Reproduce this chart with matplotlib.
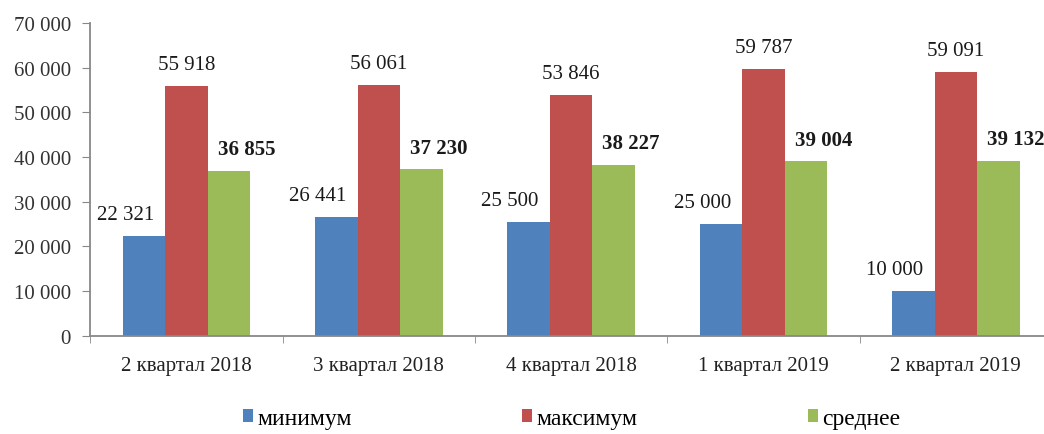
import matplotlib
matplotlib.use("Agg")
import matplotlib.pyplot as plt
from matplotlib.patches import Patch
import numpy as np

categories = ["2 квартал 2018", "3 квартал 2018", "4 квартал 2018", "1 квартал 2019", "2 квартал 2019"]
series_names = ["минимум", "максимум", "среднее"]
minimum = [22321, 26441, 25500, 25000, 10000]
maximum = [55918, 56061, 53846, 59787, 59091]
average = [36855, 37230, 38227, 39004, 39132]
yticks = [0, 10000, 20000, 30000, 40000, 50000, 60000, 70000]

colors = ["#4F81BD", "#C0504D", "#9BBB59"]
plt.rcParams["font.family"] = ["Liberation Serif", "DejaVu Serif"]
FS = 15


def fmt(v):
    return f"{v:,}".replace(",", " ")


fig = plt.figure(figsize=(10.44, 4.35), dpi=100)
# the category axis runs slightly past the right edge of the canvas
ax = fig.add_axes([0.0866, 0.2264, 0.921, 0.7184])

x = np.arange(len(categories))
w = 0.221
data = [minimum, maximum, average]
label_dx = [-13.5, 0, 12.5]   # horizontal nudge of the value labels, points
for i, (vals, c) in enumerate(zip(data, colors)):
    pos = x + (i - 1) * w
    ax.bar(pos, vals, width=w, color=c, zorder=2)
    for p, v in zip(pos, vals):
        ax.annotate(fmt(v), (p, v), xytext=(label_dx[i], 15.5), textcoords="offset points",
                    ha="center", va="center", fontsize=FS,
                    fontweight="bold" if i == 2 else "normal", color="#1a1a1a")

ax.set_xlim(-0.5, len(categories) - 0.5)
ax.set_ylim(0, 70000)
ax.set_yticks(yticks)
ax.set_yticklabels([fmt(t) for t in yticks], fontsize=FS, color="#333333")
ax.set_xticks(x)
ax.set_xticklabels(categories, fontsize=FS, color="#222222")
ax.tick_params(axis="x", length=0, pad=15)
ax.set_xticks(np.arange(len(categories) + 1) - 0.5, minor=True)
ax.tick_params(axis="x", which="minor", length=5, color="#888888", direction="out")
ax.tick_params(axis="y", length=6, color="#888888", pad=8)

for s in ["top", "right"]:
    ax.spines[s].set_visible(False)
for s in ["left", "bottom"]:
    ax.spines[s].set_color("#888888")
    ax.spines[s].set_linewidth(1.3)

handles = [Patch(facecolor=c, label=n) for c, n in zip(colors, series_names)]
fig.legend(handles=handles, loc="center left", bbox_to_anchor=(0.2328, 0.036), ncol=3,
           frameon=False, fontsize=17, handlelength=0.42, handleheight=0.42,
           handletextpad=0.2, columnspacing=7.2, borderaxespad=0, borderpad=0)

fig.savefig("out.png", dpi=100)
